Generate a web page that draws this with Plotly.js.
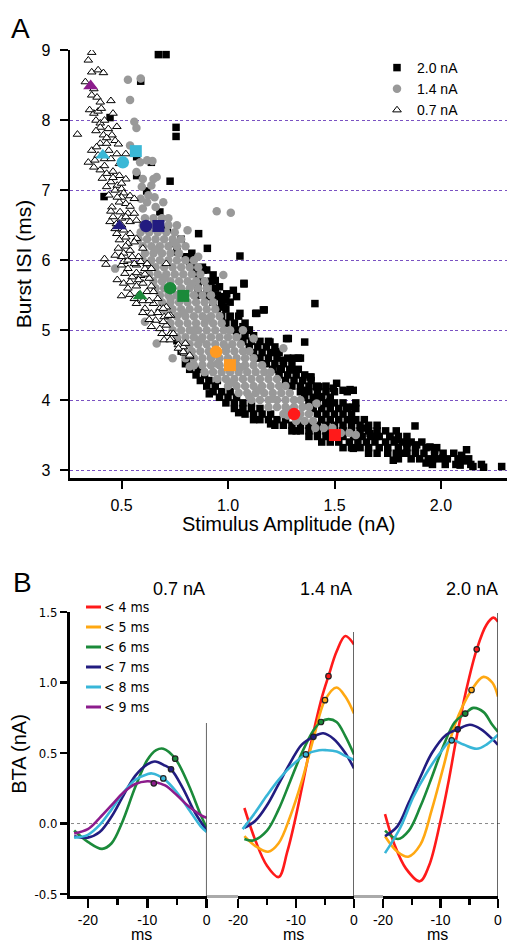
<!DOCTYPE html>
<html><head><meta charset="utf-8">
<script src="https://cdn.plot.ly/plotly-3.0.1.min.js"></script>
<style>html,body{margin:0;padding:0;background:#fff}#chart{width:507px;height:944px}</style>
</head><body><div id="chart"></div>
<script>
// ---------- Panel A data: [stimulus amplitude (nA), burst ISI (ms)] ----------
// 2.0 nA: scattered points
const pts20 = [
[0.673,8.94],[0.709,8.94],[0.59,8.56],[0.446,8.04],[0.756,7.9],[0.756,7.77],[0.571,7.48],[0.64,7.4],[0.571,7.21],[0.728,7.13],
[0.618,6.99],[0.418,6.91],[0.68,6.69],[0.715,6.44],[0.743,6.24],[0.862,6.38],[0.903,6.17],[1.056,6.06],[0.82,5.95],[0.87,5.86],
[0.9,5.86],[0.94,5.71],[0.86,5.6],[0.96,5.48],[1.04,5.48],[1.075,5.66],[0.97,5.38],[0.884,5.86],[0.93,5.79],[0.96,5.62],
[0.99,5.43],[1.025,5.57],[1.01,5.19],[1.04,5.0],[1.088,5.0],[0.9,5.48],[0.994,5.52],[0.978,5.33],[1.056,5.24],[1.135,5.24],
[1.166,5.29],[1.07,5.05],[1.1,5.0],[1.408,5.38],[1.197,4.83],[1.23,4.69],[1.275,4.88],[1.36,4.83],[1.307,4.6],[1.34,4.6],
[1.26,4.57],[1.244,4.45],[1.307,4.43],[1.385,4.33],[1.416,4.19],[1.494,4.17],[1.54,4.14],[1.588,4.14],[1.51,4.24],[1.573,4.15],
[1.39,4.33],[1.427,4.19],[1.37,4.14],[1.43,4.05],[1.46,3.95],[1.557,3.9],[1.588,3.9],[1.6,3.96],[1.479,3.98],[1.588,3.71],
[1.604,3.48],[1.588,3.31],[1.635,3.6],[1.667,3.52],[1.698,3.48],[1.76,3.48],[1.79,3.43],[1.84,3.38],[1.886,3.36],[1.948,3.33],
[1.97,3.29],[2.12,3.29],[2.097,3.21],[2.008,3.17],[1.93,3.1],[1.776,3.14],[1.823,3.24],[2.09,3.07],[2.15,3.05],[2.2,3.04],
[2.285,3.05],[2.11,3.13],[1.878,3.63],[1.96,3.15],[0.806,4.57],[0.912,4.09],[1.283,4.88],[1.13,5.24],[1.17,5.29],[1.075,5.67],
[0.8,6.05],[0.76,6.12],[0.78,6.3],[0.83,6.1],[0.87,5.5],[0.78,4.7],[0.76,4.85],[1.05,3.82],[1.12,3.72],[1.2,3.66],[1.32,3.56]
];
// 2.0 nA: dense band, rows of [ISI, amplitudes...]
const rows20 = [
[3.08, 1.96,2.02,2.07,2.14,2.19],
[3.16, 1.8,1.86,1.9,1.94,1.99,2.03,2.08,2.13],
[3.24, 1.66,1.7,1.75,1.79,1.84,1.88,1.92,1.97,2.01,2.06],
[3.32, 1.54,1.58,1.62,1.66,1.71,1.75,1.8,1.84,1.88,1.93,1.98],
[3.4, 1.44,1.48,1.52,1.57,1.61,1.65,1.69,1.74,1.78,1.82,1.86,1.91],
[3.48, 1.38,1.42,1.46,1.5,1.54,1.59,1.63,1.67,1.71,1.76,1.8,1.84],
[3.56, 1.3,1.34,1.38,1.42,1.46,1.5,1.54,1.58,1.62,1.66,1.7,1.74,1.79],
[3.64, 1.22,1.26,1.3,1.34,1.38,1.42,1.46,1.5,1.54,1.58,1.62,1.66,1.7],
[3.72, 1.15,1.19,1.23,1.27,1.44,1.48,1.52,1.56,1.6,1.64],
[3.8, 1.08,1.12,1.16,1.2,1.42,1.46,1.5,1.54,1.58],
[3.88, 1.03,1.07,1.11,1.15,1.4,1.44,1.48,1.52,1.56,1.6],
[3.96, 0.99,1.03,1.07,1.11,1.38,1.42,1.46,1.5,1.54],
[4.04, 0.96,1.0,1.04,1.36,1.4,1.44,1.48],
[4.12, 0.93,0.97,1.01,1.34,1.38,1.42,1.46,1.5,1.56],
[4.2, 0.9,0.94,1.3,1.34,1.38,1.42,1.46],
[4.28, 0.87,0.91,0.95,1.27,1.31,1.35,1.39],
[4.36, 0.85,0.89,1.24,1.28,1.32,1.36],
[4.44, 0.82,0.86,1.21,1.25,1.29,1.33],
[4.52, 0.8,1.18,1.22,1.26,1.3],
[4.6, 1.15,1.19,1.23,1.28,1.33],
[4.68, 1.12,1.16,1.2,1.24],
[4.76, 1.1,1.14,1.18,1.22],
[4.84, 1.07,1.11,1.15,1.19],
[4.92, 1.04,1.08,1.12],
[5.0, 1.02,1.06,1.1],
[5.1, 0.99,1.03,1.08],
[5.2, 0.97,1.01,1.05],
[5.3, 0.95,0.99],
[5.4, 0.93,0.97,1.01],
[5.5, 0.91,0.95],
[5.6, 0.9,0.94],
[5.7, 0.88,0.92],
[5.8, 0.86],
[5.9, 0.84,0.88],
[6.0, 0.82]
];
// 1.4 nA: scattered points
const pts14 = [
[0.53,8.58],[0.59,8.6],[0.54,8.29],[0.56,7.98],[0.57,7.89],[0.54,7.64],[0.57,7.26],[0.587,7.4],[0.62,7.43],[0.645,7.42],
[0.665,7.19],[0.65,7.16],[0.6,7.16],[0.595,7.05],[0.64,7.07],[0.626,6.93],[0.655,6.9],[0.59,6.88],[0.62,6.83],[0.696,6.83],
[0.66,6.76],[0.6,6.74],[0.947,6.7],[1.013,6.68],[0.47,5.88],[0.61,5.12],[0.665,4.81],[0.74,4.6],[0.82,4.48],[0.81,6.43],
[0.86,6.05],[0.978,5.79],[1.07,5.0],[1.12,4.88],[1.26,4.74],[1.416,3.95],[1.28,3.78],[1.33,3.76],[1.6,3.5],[1.49,3.6],
[0.75,6.25],[0.83,5.66],[0.9,5.16],[0.99,4.75],[1.06,4.47],[1.15,4.15],[1.21,4.02],[1.29,3.86],[0.7,5.75],[0.79,5.25],
[0.87,4.86],[0.95,4.52],[1.02,4.25],[1.1,4.05],[0.66,6.15],[0.73,5.45],[0.84,5.0],[0.92,4.65]
];
// 1.4 nA: dense band, rows of [ISI, amplitudes...]
const rows14 = [
[6.6, 0.61,0.65,0.69,0.72],
[6.5, 0.6,0.64,0.68,0.72,0.76],
[6.4, 0.59,0.63,0.67,0.71,0.75],
[6.3, 0.58,0.62,0.66,0.7,0.74,0.78],
[6.2, 0.6,0.64,0.68,0.72,0.76,0.8],
[6.1, 0.61,0.65,0.69,0.73,0.77],
[6.0, 0.6,0.64,0.68,0.72,0.76,0.8,0.84],
[5.9, 0.62,0.66,0.7,0.74,0.78,0.82,0.86],
[5.8, 0.63,0.67,0.71,0.75,0.79,0.83,0.87],
[5.7, 0.65,0.69,0.73,0.77,0.81,0.85,0.89],
[5.6, 0.66,0.7,0.74,0.78,0.82,0.86,0.9],
[5.5, 0.68,0.72,0.76,0.8,0.84,0.88,0.92],
[5.4, 0.69,0.73,0.77,0.81,0.85,0.89,0.93],
[5.3, 0.7,0.74,0.78,0.82,0.86,0.9,0.94],
[5.2, 0.72,0.76,0.8,0.84,0.88,0.92,0.96],
[5.1, 0.73,0.77,0.81,0.85,0.89,0.93,0.97],
[5.0, 0.74,0.78,0.82,0.86,0.9,0.94,0.98,1.01],
[4.9, 0.76,0.8,0.84,0.88,0.92,0.96,1.0,1.04],
[4.8, 0.78,0.82,0.86,0.9,0.94,0.98,1.02,1.06],
[4.7, 0.79,0.83,0.87,0.91,0.95,0.99,1.03,1.07,1.1],
[4.6, 0.8,0.84,0.88,0.92,0.96,1.0,1.04,1.08,1.12],
[4.5, 0.84,0.88,0.92,0.96,1.0,1.04,1.08,1.12,1.16],
[4.4, 0.89,0.93,0.97,1.01,1.05,1.09,1.13,1.17,1.2],
[4.3, 0.95,0.99,1.03,1.07,1.11,1.15,1.19,1.23],
[4.2, 1.0,1.04,1.08,1.12,1.16,1.2,1.24,1.27],
[4.1, 1.05,1.09,1.13,1.17,1.21,1.25,1.29],
[4.0, 1.11,1.15,1.19,1.23,1.27,1.31,1.34],
[3.9, 1.19,1.23,1.27,1.31,1.35,1.38],
[3.8, 1.26,1.3,1.34,1.38],
[3.7, 1.32,1.36,1.4],
[3.6, 1.41,1.45],
[3.53, 1.53,1.57]
];
// 0.7 nA
const pts07 = [
[0.36,8.97],[0.344,8.86],[0.36,8.69],[0.39,8.72],[0.415,8.68],[0.33,8.55],[0.36,8.36],[0.385,8.33],[0.4,8.26],[0.45,8.28],
[0.37,8.1],[0.39,8.13],[0.405,8.17],[0.46,8.1],[0.38,8.0],[0.40,7.96],[0.40,7.9],[0.438,7.88],[0.478,7.91],[0.293,7.8],
[0.415,7.79],[0.455,7.79],[0.40,7.67],[0.43,7.67],[0.47,7.71],[0.485,7.66],[0.36,7.57],[0.383,7.62],[0.44,7.57],[0.344,7.4],
[0.375,7.43],[0.478,7.52],[0.52,7.52],[0.37,7.33],[0.40,7.29],[0.43,7.24],[0.46,7.27],[0.49,7.21],[0.52,7.16],[0.41,7.17],
[0.45,7.12],[0.48,7.07],[0.47,7.0],[0.5,7.02],[0.51,6.96],[0.44,6.93],[0.5,6.9],[0.54,6.92],[0.56,6.88],[0.49,6.83],
[0.52,6.81],[0.54,6.77],[0.455,6.76],[0.493,6.69],[0.53,6.67],[0.56,6.67],[0.446,6.55],[0.476,6.52],[0.54,6.55],[0.57,6.57],
[0.478,6.38],[0.51,6.43],[0.54,6.38],[0.57,6.31],[0.49,6.29],[0.53,6.24],[0.56,6.26],[0.6,6.17],[0.485,6.17],[0.51,6.1],
[0.54,6.14],[0.58,6.05],[0.42,6.02],[0.427,5.94],[0.5,5.93],[0.53,5.88],[0.57,5.93],[0.61,5.88],[0.64,5.88],[0.51,5.98],
[0.53,6.0],[0.56,5.95],[0.59,5.98],[0.62,5.95],[0.71,5.95],[0.516,5.81],[0.55,5.76],[0.59,5.78],[0.63,5.74],[0.51,5.67],
[0.54,5.69],[0.57,5.63],[0.6,5.67],[0.64,5.63],[0.5,5.49],[0.54,5.51],[0.62,5.55],[0.65,5.55],[0.57,5.38],[0.61,5.31],
[0.65,5.38],[0.68,5.31],[0.71,5.33],[0.64,5.24],[0.66,5.14],[0.7,5.19],[0.73,5.21],[0.68,5.02],[0.71,5.07],[0.73,4.95],
[0.735,4.88],[0.7,4.86],[0.767,4.79],[0.79,4.76],[0.795,4.67],[0.82,4.62],[0.696,5.31],[0.72,5.21],[0.696,5.12],[0.743,4.95],
[0.728,4.86],[0.767,4.74],[0.8,4.81],[0.79,4.69],[0.82,4.64],[0.37,8.45],[0.42,7.45],[0.46,6.62],[0.5,6.6],[0.52,6.33],
[0.47,6.45],[0.5,6.5],[0.52,6.62],[0.45,6.7],[0.48,6.9],[0.43,7.05],[0.46,7.18],[0.5,7.1],[0.42,7.35],[0.45,7.45],
[0.49,7.38],[0.39,7.5],[0.43,7.75],[0.38,7.85],[0.42,8.0],[0.35,8.15],[0.52,6.2],[0.55,6.05],[0.5,6.05],[0.47,6.07],
[0.57,5.82],[0.61,5.8],[0.53,5.6],[0.58,5.5],[0.56,5.45],[0.6,5.42],[0.63,5.42],[0.67,5.45],[0.6,5.25],[0.63,5.15],
[0.67,5.25],[0.64,5.05],[0.69,4.95],[0.58,5.72],[0.48,5.72]
];
// highlighted points (mean ISI classes)
const hiTriAmp = [0.355,0.412,0.49,0.587];
const hiTriIsi = [8.49,7.5,6.49,5.49];
const hiTriCls = ['<9','<8','<7','<6'];
const hiCirAmp = [0.506,0.615,0.728,0.944,1.31];
const hiCirIsi = [7.40,6.49,5.6,4.69,3.8];
const hiCirCls = ['<8','<7','<6','<5','<4'];
const hiSqAmp = [0.567,0.673,0.79,1.009,1.502];
const hiSqIsi = [7.56,6.49,5.49,4.5,3.5];
const hiSqCls = ['<8','<7','<6','<5','<4'];

// ---------- Panel B data: BTA curves, t (ms) and value (nA) ----------
const panelTitles = ['0.7 nA','1.4 nA','2.0 nA'];
const classNames = ['< 4 ms','< 5 ms','< 6 ms','< 7 ms','< 8 ms','< 9 ms'];
const classKeys  = ['<4','<5','<6','<7','<8','<9'];
// 0.7 nA
const t07_6 = [-22.3,-20,-17.6,-16,-14.3,-12,-10,-8.5,-7.3,-5.3,-3,-1,0];
const v07_6 = [-0.05,-0.13,-0.18,-0.14,0,0.26,0.45,0.52,0.53,0.46,0.27,0.06,-0.03];
const t07_7 = [-22.3,-20,-18,-16,-14,-12,-10,-8.7,-7,-6,-4,-2,0];
const v07_7 = [-0.09,-0.1,-0.06,0.05,0.2,0.34,0.42,0.44,0.41,0.385,0.25,0.08,-0.05];
const t07_8 = [-22.3,-20,-18,-16,-14,-12,-10,-9.2,-7.3,-5,-3,-1,0];
const v07_8 = [-0.1,-0.08,-0.01,0.1,0.22,0.31,0.35,0.355,0.32,0.22,0.1,-0.02,-0.06];
const t07_9 = [-22.3,-20,-18,-16,-14,-12,-10,-8.9,-7,-5,-3,-1,0];
const v07_9 = [-0.07,-0.04,0.04,0.13,0.22,0.28,0.3,0.295,0.27,0.2,0.12,0.06,0.04];
const dot07T = [-5.3,-6.0,-7.3,-8.9];
const dot07V = [0.46,0.385,0.32,0.285];
const dot07C = ['<6','<7','<8','<9'];
// 1.4 nA
const t14_4 = [-18.9,-17,-15,-13,-11.5,-10.3,-9,-7.3,-5.5,-4.4,-3,-1.5,0];
const v14_4 = [0.11,-0.12,-0.3,-0.38,-0.2,0,0.25,0.59,0.9,1.045,1.22,1.33,1.27];
const t14_5 = [-18.9,-17,-14.8,-13,-11,-9,-7,-5,-3,-1.5,0];
const v14_5 = [-0.09,-0.16,-0.2,-0.14,0.05,0.3,0.6,0.875,0.965,0.9,0.78];
const t14_6 = [-18.9,-17.4,-15,-13,-11,-9,-7,-5.7,-4.4,-3,-1.5,0];
const v14_6 = [-0.11,-0.12,-0.05,0.1,0.3,0.5,0.66,0.72,0.74,0.72,0.62,0.49];
const t14_7 = [-18.9,-17,-15,-13,-11,-9,-7,-5.3,-3.5,-1.5,0];
const v14_7 = [-0.03,0.02,0.13,0.28,0.43,0.56,0.615,0.64,0.6,0.5,0.39];
const t14_8 = [-19.2,-17,-15,-13,-11,-8.3,-6,-4.7,-3,-1.5,0];
const v14_8 = [-0.04,0.08,0.2,0.31,0.4,0.49,0.52,0.52,0.51,0.48,0.45];
const dot14T = [-4.4,-5.0,-5.7,-7.0,-8.3];
const dot14V = [1.045,0.875,0.72,0.615,0.49];
const dot14C = ['<4','<5','<6','<7','<8'];
// 2.0 nA
const t20_4 = [-19.65,-18,-16,-13.6,-12,-10.1,-8.5,-7.3,-5.5,-3.7,-2,-0.8,0];
const v20_4 = [0.067,-0.15,-0.32,-0.41,-0.3,0,0.32,0.59,0.95,1.235,1.41,1.46,1.43];
const t20_5 = [-19.65,-17.5,-15.6,-13.5,-11.5,-9.5,-7.5,-4.6,-2.55,-1,0];
const v20_5 = [-0.09,-0.2,-0.235,-0.15,0.1,0.4,0.7,0.947,1.04,1.0,0.9];
const t20_6 = [-19.65,-17.4,-15.5,-13.5,-11.5,-9.5,-7.5,-5.7,-4.3,-2.5,-1,0];
const v20_6 = [-0.05,-0.11,-0.05,0.12,0.33,0.55,0.72,0.78,0.82,0.79,0.7,0.65];
const t20_7 = [-19.65,-17.5,-15.5,-13.5,-11.5,-9,-7,-4.87,-3,-1,0];
const v20_7 = [-0.09,-0.02,0.15,0.33,0.5,0.63,0.668,0.70,0.67,0.6,0.557];
const t20_8 = [-19.65,-17,-14.7,-12.4,-10.1,-8.05,-6,-3.7,-2,0];
const v20_8 = [-0.21,-0.03,0.19,0.36,0.5,0.59,0.56,0.53,0.56,0.63];
const dot20T = [-3.7,-4.6,-5.7,-7.0,-8.05];
const dot20V = [1.235,0.947,0.78,0.668,0.59];
const dot20C = ['<4','<5','<6','<7','<8'];

// ---------- styling ----------
const COLORS = {'<4':'#ff1a1a','<5':'#ffa812','<6':'#1b8a3a','<7':'#221c80','<8':'#38b6d8','<9':'#8c1c8c'};
const COLORS_A = {'<4':'#ff1a1a','<5':'#ff9a22','<6':'#1b8a3a','<7':'#221c80','<8':'#3ab8d6','<9':'#8c1c8c'};
const FONT = 'Liberation Sans, Arial, sans-serif';
const NARROW = 'Liberation Sans Narrow, DejaVu Sans Condensed, Liberation Sans, sans-serif';
const W = 507, H = 944;
const fx = p => p / W, fy = p => 1 - p / H;

function expandRows(rows){
  const xs = [], ys = [];
  rows.forEach(r => { for (let i = 1; i < r.length; i++){ xs.push(r[i]); ys.push(r[0]); } });
  return [xs, ys];
}
const [rx20, ry20] = expandRows(rows20);
const [rx14, ry14] = expandRows(rows14);

const traces = [];
traces.push({type:'scatter',mode:'markers',x:pts20.map(p=>p[0]).concat(rx20),y:pts20.map(p=>p[1]).concat(ry20),xaxis:'x',yaxis:'y',
  name:'2.0 nA',marker:{symbol:'square',size:7.5,color:'#000'},hoverinfo:'skip'});
traces.push({type:'scatter',mode:'markers',x:rx14.concat(pts14.map(p=>p[0])),y:ry14.concat(pts14.map(p=>p[1])),xaxis:'x',yaxis:'y',
  name:'1.4 nA',marker:{symbol:'circle',size:8.5,color:'#999999'},hoverinfo:'skip'});
traces.push({type:'scatter',mode:'markers',x:pts07.map(p=>p[0]),y:pts07.map(p=>p[1]),xaxis:'x',yaxis:'y',
  name:'0.7 nA',marker:{symbol:'triangle-up',size:7.5,color:'#fff',line:{color:'#000',width:1}},hoverinfo:'skip'});
traces.push({type:'scatter',mode:'markers',x:hiTriAmp,y:hiTriIsi,xaxis:'x',yaxis:'y',showlegend:false,
  marker:{symbol:'triangle-up',size:13,color:hiTriCls.map(c=>COLORS_A[c])}});
traces.push({type:'scatter',mode:'markers',x:hiCirAmp,y:hiCirIsi,xaxis:'x',yaxis:'y',showlegend:false,
  marker:{symbol:'circle',size:12.5,color:hiCirCls.map(c=>COLORS_A[c])}});
traces.push({type:'scatter',mode:'markers',x:hiSqAmp,y:hiSqIsi,xaxis:'x',yaxis:'y',showlegend:false,
  marker:{symbol:'square',size:12,color:hiSqCls.map(c=>COLORS_A[c])}});

function addCurves(list, xa, ya, dotsT, dotsV, dotsC){
  list.forEach(([t,v,c])=>{
    traces.push({type:'scatter',mode:'lines',x:t,y:v,xaxis:xa,yaxis:ya,showlegend:false,
      line:{color:COLORS[c],width:2.6,shape:'spline',smoothing:1},hoverinfo:'skip'});
  });
  traces.push({type:'scatter',mode:'markers',x:dotsT,y:dotsV,xaxis:xa,yaxis:ya,showlegend:false,
    marker:{symbol:'circle',size:5.5,color:dotsC.map(c=>COLORS[c]),line:{color:'#222',width:1.2}},hoverinfo:'skip'});
}
addCurves([[t07_6,v07_6,'<6'],[t07_7,v07_7,'<7'],[t07_8,v07_8,'<8'],[t07_9,v07_9,'<9']],'x2','y2',dot07T,dot07V,dot07C);
addCurves([[t14_4,v14_4,'<4'],[t14_5,v14_5,'<5'],[t14_6,v14_6,'<6'],[t14_7,v14_7,'<7'],[t14_8,v14_8,'<8']],'x3','y3',dot14T,dot14V,dot14C);
addCurves([[t20_4,v20_4,'<4'],[t20_5,v20_5,'<5'],[t20_6,v20_6,'<6'],[t20_7,v20_7,'<7'],[t20_8,v20_8,'<8']],'x4','y4',dot20T,dot20V,dot20C);

const yB = [-0.514, 1.5];
const bx = (dom, rng, anchor) => ({
  domain: dom, range: rng, anchor: anchor, tickvals:[-20,-10,0], ticktext:['-20','-10','0'],
  ticks:'outside', ticklen:9, tickwidth:2.5, tickcolor:'#000',
  minor:{tickvals:[-15,-5], ticks:'outside', ticklen:6, tickwidth:2.5, tickcolor:'#000', showgrid:false},
  showline:true, linewidth:3, linecolor:'#000', showgrid:false, zeroline:false,
  tickfont:{family:FONT,size:14,color:'#000'}, ticklabelstandoff:0, fixedrange:true
});
const byHidden = (anchor) => ({domain:[fy(896),fy(612)], range:yB, anchor:anchor, visible:false, fixedrange:true});

const shapes = [
  {type:'line',xref:'x2',yref:'y2',x0:0,x1:0,y0:yB[0],y1:0.713,line:{color:'#333',width:1.5}},
  {type:'line',xref:'x3',yref:'y3',x0:0,x1:0,y0:yB[0],y1:1.358,line:{color:'#333',width:1.5}},
  {type:'line',xref:'x4',yref:'y4',x0:0,x1:0,y0:yB[0],y1:1.493,line:{color:'#333',width:1.5}},
  {type:'line',xref:'paper',yref:'paper',x0:fx(207),x1:fx(238),y0:fy(896.5),y1:fy(896.5),line:{color:'#aaaaaa',width:3}},
  {type:'line',xref:'paper',yref:'paper',x0:fx(354),x1:fx(383),y0:fy(896.5),y1:fy(896.5),line:{color:'#aaaaaa',width:3}},
  {type:'line',xref:'paper',yref:'y2',x0:fx(71),x1:fx(500),y0:0,y1:0,layer:'below',line:{color:'#8a8a8a',width:1,dash:'3px,3px'}}
];
const legY = [607,627,647,667,687,707];
const ann = (text,x,y,size) => ({text:text,x:fx(x),y:fy(y),xref:'paper',yref:'paper',xanchor:'center',yanchor:'middle',
  showarrow:false,font:{family:FONT,size:size,color:'#000'}});
const annotations = [
  ann('A',20,28,28), ann('B',22,582,28),
  ann('Stimulus Amplitude (nA)',288,524,20),
  ann(panelTitles[0],179,589,18), ann(panelTitles[1],326,589,18), ann(panelTitles[2],472,589,18),
  ann('ms',141,934.5,16), ann('ms',293,934.5,16), ann('ms',437,934.5,16)
];
classNames.forEach((nm,i)=>{
  shapes.push({type:'line',xref:'paper',yref:'paper',x0:fx(86),x1:fx(101),y0:fy(legY[i]),y1:fy(legY[i]),line:{color:COLORS[classKeys[i]],width:3}});
  annotations.push({text:nm,x:fx(102),y:fy(legY[i]),xref:'paper',yref:'paper',xanchor:'left',yanchor:'middle',showarrow:false,
    font:{family:NARROW,size:14,color:'#000'}});
});

const layout = {
  width:W, height:H, autosize:false, margin:{l:0,r:0,t:0,b:0},
  paper_bgcolor:'#fff', plot_bgcolor:'rgba(0,0,0,0)', showlegend:true,
  font:{family:FONT,color:'#000'},
  legend:{x:fx(377),y:fy(52),xanchor:'left',yanchor:'top',bgcolor:'rgba(0,0,0,0)',tracegroupgap:0,
    font:{family:FONT,size:14,color:'#000'},itemclick:false,itemdoubleclick:false},
  xaxis:{domain:[fx(70),1], range:[0.258,2.31], anchor:'y', tick0:0.5, dtick:0.5, tickformat:'.1f',
    ticks:'outside', ticklen:8, tickwidth:2, tickcolor:'#000', showline:true, linewidth:2.5, linecolor:'#000',
    showgrid:false, zeroline:false, tickfont:{family:FONT,size:16,color:'#000'}, ticklabelstandoff:3, fixedrange:true},
  yaxis:{domain:[fy(478),fy(50)], range:[2.886,9.006], anchor:'x', tick0:3, dtick:1,
    ticks:'outside', ticklen:8, tickwidth:2, tickcolor:'#000', showline:true, linewidth:2.5, linecolor:'#000',
    showgrid:true, gridcolor:'#7a52c2', gridwidth:1, griddash:'3px,2.5px', zeroline:false,
    tickfont:{family:FONT,size:16,color:'#000'}, ticklabelstandoff:6,
    title:{text:'Burst ISI (ms)', font:{family:FONT,size:21,color:'#000'}, standoff:4}, fixedrange:true},
  xaxis2: bx([fx(70),fx(206.7)],[-23,0],'y2'),
  xaxis3: bx([fx(238),fx(354)],[-20,0],'y3'),
  xaxis4: bx([fx(383),fx(498)],[-20,0],'y4'),
  yaxis2:{domain:[fy(896),fy(612)], range:yB, anchor:'x2', tickvals:[-0.5,0,0.5,1,1.5],
    ticktext:['-0.5','0.0','0.5','1.0','1.5'], ticks:'outside', ticklen:7, tickwidth:2.5, tickcolor:'#000',
    showline:true, linewidth:3, linecolor:'#000', showgrid:false, zeroline:false,
    tickfont:{family:NARROW,size:13,color:'#000'}, ticklabelstandoff:0,
    title:{text:'BTA (nA)', font:{family:FONT,size:20,color:'#000'}, standoff:3}, fixedrange:true},
  yaxis3: byHidden('x3'),
  yaxis4: byHidden('x4'),
  shapes: shapes, annotations: annotations
};
Plotly.newPlot('chart', traces, layout, {staticPlot:true, displayModeBar:false});
</script></body></html>
